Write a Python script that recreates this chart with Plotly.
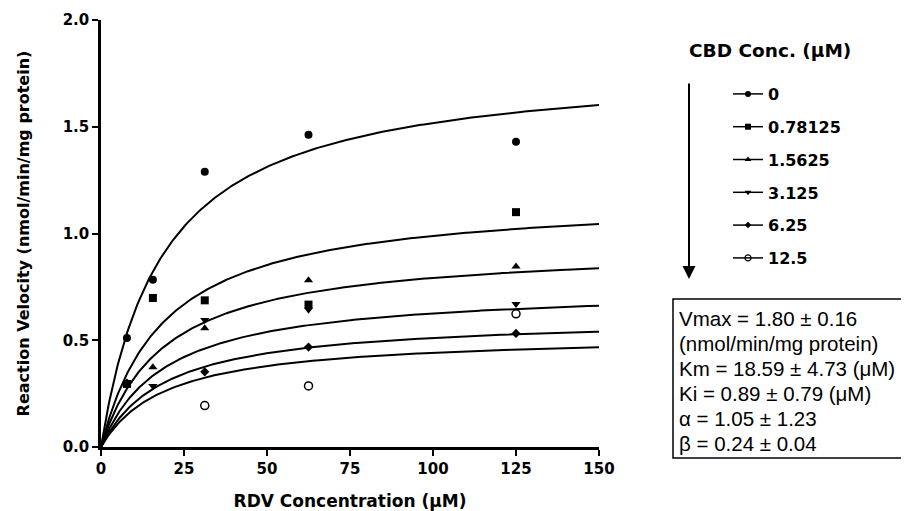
import numpy as np
import plotly.graph_objects as go

# ---- data ----
rdv = [7.8125, 15.625, 31.25, 62.5, 125]
cbd_labels = ["0", "0.78125", "1.5625", "3.125", "6.25", "12.5"]
cbd_conc = [0, 0.78125, 1.5625, 3.125, 6.25, 12.5]
v_0 = [0.511, 0.783, 1.289, 1.462, 1.43]
v_078 = [0.295, 0.698, 0.687, 0.667, 1.10]
v_156 = [0.294, 0.373, 0.556, 0.781, 0.846]
v_3125 = [0.294, 0.286, 0.595, 0.643, 0.67]
v_625 = [0.30, None, 0.352, 0.468, 0.532]
v_125 = [None, None, 0.194, 0.286, 0.624]
series = [v_0, v_078, v_156, v_3125, v_625, v_125]

# fitted mixed-model parameters (from the chart's box)
Vmax, Km, Ki, alpha, beta = 1.80, 18.59, 0.89, 1.05, 0.24
box_lines = [
    "Vmax = 1.80 ± 0.16",
    "(nmol/min/mg protein)",
    "Km = 18.59 ± 4.73 (μM)",
    "Ki = 0.89 ± 0.79 (μM)",
    "α = 1.05 ± 1.23",
    "β = 0.24 ± 0.04",
]

symbols = ["circle", "square", "triangle-up", "triangle-down", "diamond", "circle-open"]
sizes = [8, 8, 8, 8, 7, 8]
leg_sizes = [6, 6, 6, 6, 5, 6]

FONT = "Liberation Sans, Arial, sans-serif"
BFONT = "DejaVu Sans, sans-serif"
fig = go.Figure()

s_curve = np.linspace(0, 150, 401)
for i, I in enumerate(cbd_conc):
    v = Vmax * s_curve * (1 + beta * I / (alpha * Ki)) / (
        Km * (1 + I / Ki) + s_curve * (1 + I / (alpha * Ki)))
    fig.add_trace(go.Scatter(x=s_curve, y=v, mode="lines",
                             line=dict(color="black", width=2),
                             showlegend=False, hoverinfo="skip"))

for i, vals in enumerate(series):
    fig.add_trace(go.Scatter(x=rdv, y=vals, mode="markers",
                             marker=dict(symbol=symbols[i], size=sizes[i], color="black",
                                         line=dict(color="black", width=1.5 if symbols[i] == "circle-open" else 0)),
                             showlegend=False, cliponaxis=False))

for i, lab in enumerate(cbd_labels):
    fig.add_trace(go.Scatter(x=[None], y=[None], mode="lines+markers", name=lab,
                             legendgroup=lab,
                             line=dict(color="black", width=1.5),
                             marker=dict(symbol=symbols[i], size=leg_sizes[i], color="black",
                                         line=dict(color="black", width=1.2 if symbols[i] == "circle-open" else 0))))

# layout geometry (window pixels); the page body adds an 8px offset
OFF = 8
L, R, T, B = 101, 599, 20, 447
W, H = 909 - OFF, 511 - OFF

def px_x(p):
    return (p - L) / (R - L)

def px_y(p):
    return (B - p) / (B - T)

annotations = [
    dict(text="CBD Conc. (μM)", x=px_x(687), y=px_y(51), xref="paper", yref="paper",
         xanchor="left", yanchor="middle", showarrow=False,
         font=dict(size=18.5, color="black", family=BFONT, weight="bold")),
    dict(text="", x=px_x(689), y=px_y(279), xref="paper", yref="paper",
         ax=0, ay=-(279 - 82), axref="pixel", ayref="pixel",
         showarrow=True, arrowhead=2, arrowsize=1.3, arrowwidth=2, arrowcolor="black"),
]
for k, line in enumerate(box_lines):
    annotations.append(dict(text=line, x=px_x(677), y=px_y(318 + 25 * k), xref="paper", yref="paper",
                            xanchor="left", yanchor="middle", showarrow=False,
                            font=dict(size=20.5, color="black", family=FONT)))

shapes = [dict(type="rect", xref="paper", yref="paper",
               x0=px_x(673), x1=px_x(907), y0=px_y(299), y1=px_y(458),
               line=dict(color="black", width=1.5), fillcolor="rgba(0,0,0,0)")]

tickfont = dict(size=15, family=BFONT, color="black", weight="bold")
fig.update_layout(
    width=W, height=H,
    margin=dict(l=L - OFF, r=909 - R, t=T - OFF, b=511 - B, pad=0),
    paper_bgcolor="white", plot_bgcolor="white",
    font=dict(family=FONT, color="black"),
    showlegend=True,
    legend=dict(x=px_x(728), y=px_y(77), xanchor="left", yanchor="top",
                font=dict(size=16, color="black", family=BFONT, weight="bold"),
                tracegroupgap=9, itemwidth=30, bgcolor="rgba(0,0,0,0)"),
    annotations=annotations,
    shapes=shapes,
    xaxis=dict(range=[0, 150], tickvals=[0, 25, 50, 75, 100, 125, 150], automargin=False,
               showgrid=False, zeroline=False, showline=True, linecolor="black", linewidth=2.5,
               ticks="outside", ticklen=6, tickwidth=2, tickcolor="black",
               tickfont=tickfont,
               title=dict(text="RDV Concentration (μM)", standoff=20,
                          font=dict(size=17, family=BFONT, color="black", weight="bold"))),
    yaxis=dict(range=[0, 2.0], tickvals=[0, 0.5, 1.0, 1.5, 2.0], tickformat=".1f", automargin=False,
               showgrid=False, zeroline=False, showline=True, linecolor="black", linewidth=2.5,
               ticks="outside", ticklen=6, tickwidth=2, tickcolor="black",
               tickfont=tickfont,
               title=dict(text="Reaction Velocity (nmol/min/mg protein)", standoff=30,
                          font=dict(size=16, family=BFONT, color="black", weight="bold"))),
)

fig.write_html("out.html")
